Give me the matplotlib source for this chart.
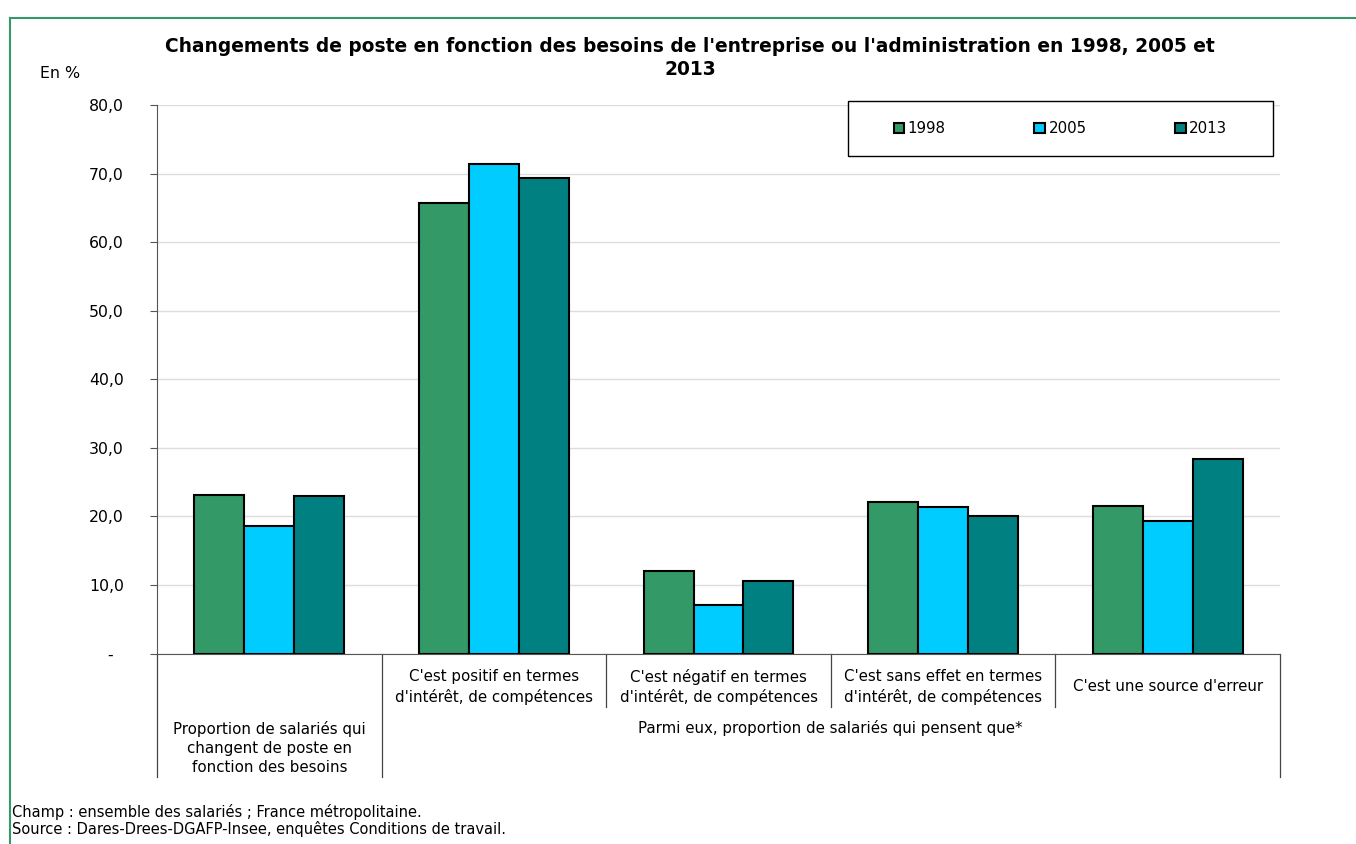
import matplotlib.pyplot as plt
import numpy as np
from matplotlib.patches import Rectangle
from matplotlib.lines import Line2D

annees = ['1998', '2005', '2013']
v1998 = [23.1, 65.7, 12.1, 22.1, 21.5]
v2005 = [18.6, 71.4, 7.1, 21.4, 19.3]
v2013 = [23.0, 69.3, 10.6, 20.0, 28.4]
couleurs = ['#339966', '#00ccff', '#008080']

etiquettes = ['',
              "C'est positif en termes\nd'intérêt, de compétences",
              "C'est négatif en termes\nd'intérêt, de compétences",
              "C'est sans effet en termes\nd'intérêt, de compétences",
              "C'est une source d'erreur"]
groupe1 = 'Proportion de salariés qui\nchangent de poste en\nfonction des besoins'
groupe2 = 'Parmi eux, proportion de salariés qui pensent que*'

plt.rcParams['font.family'] = 'DejaVu Sans'

fig = plt.figure(figsize=(13.56, 8.44), dpi=100)
ax = fig.add_axes([157 / 1356, 1 - 653.5 / 844, 1123 / 1356, 548.5 / 844])

x = np.arange(len(v1998))
w = 0.2226
for i, (vals, c, lab) in enumerate(zip([v1998, v2005, v2013], couleurs, annees)):
    ax.bar(x + (i - 1) * w, vals, width=w, color=c, edgecolor='black',
           linewidth=1.5, label=lab, zorder=3)

ax.set_xlim(-0.5, 4.5)
ax.set_ylim(0, 80)
ax.set_yticks(np.arange(0, 81, 10))
ax.set_yticklabels(['-  '] + [f'{v:.1f}'.replace('.', ',') for v in range(10, 81, 10)],
                   fontsize=11.3)
ax.set_xticks([])
ax.grid(axis='y', color='#dddddd', linewidth=1)
ax.set_axisbelow(True)
for s in ['top', 'right']:
    ax.spines[s].set_visible(False)
ax.spines['left'].set_color('#555555')
ax.spines['bottom'].set_color('#555555')
ax.tick_params(axis='y', length=5, color='#555555', pad=19)

# separateurs et etiquettes de categories
trans = ax.get_xaxis_transform()
for b in [-0.5, 0.5, 4.5]:
    ax.plot([b, b], [0, -0.225], transform=trans, color='#444444', lw=0.9, clip_on=False)
for b in [1.5, 2.5, 3.5]:
    ax.plot([b, b], [0, -0.097], transform=trans, color='#444444', lw=0.9, clip_on=False)
for i, t in enumerate(etiquettes):
    ax.text(i, -0.061, t, transform=trans, ha='center', va='center',
            fontsize=10.8, linespacing=1.35)
ax.text(0, -0.172, groupe1, transform=trans, ha='center', va='center',
        fontsize=10.8, linespacing=1.35)
ax.text(2.5, -0.136, groupe2, transform=trans, ha='center', va='center', fontsize=10.8)

# titre et textes
fig.text(690 / 1356, 1 - 58 / 844,
         "Changements de poste en fonction des besoins de l'entreprise ou l'administration en 1998, 2005 et\n2013",
         ha='center', va='center', fontsize=13.4, fontweight='bold', linespacing=1.3)
fig.text(40 / 1356, 1 - 74 / 844, 'En %', ha='left', va='center', fontsize=11.4)
fig.text(12 / 1356, 1 - 812 / 844, 'Champ : ensemble des salariés ; France métropolitaine.',
         ha='left', va='center', fontsize=10.5)
fig.text(12 / 1356, 1 - 829 / 844, 'Source : Dares-Drees-DGAFP-Insee, enquêtes Conditions de travail.',
         ha='left', va='center', fontsize=10.5)

# legende
fig.add_artist(Rectangle((848 / 1356, 1 - 156 / 844), 425 / 1356, 55 / 844,
                         transform=fig.transFigure, facecolor='white',
                         edgecolor='black', lw=1))
fig.legend(loc='center', bbox_to_anchor=(1060.5 / 1356, 1 - 128.5 / 844), ncol=3,
           frameon=False, fontsize=10.8, handlelength=0.7, handleheight=0.7,
           handletextpad=0.25, columnspacing=5.9)

# cadre vert
fig.add_artist(Line2D([10 / 1356, 1], [1 - 18 / 844, 1 - 18 / 844],
                      transform=fig.transFigure, color='#339966', lw=1.5))
fig.add_artist(Line2D([10 / 1356, 10 / 1356], [0, 1 - 18 / 844],
                      transform=fig.transFigure, color='#339966', lw=1.5))

fig.savefig('out.png', dpi=100)
